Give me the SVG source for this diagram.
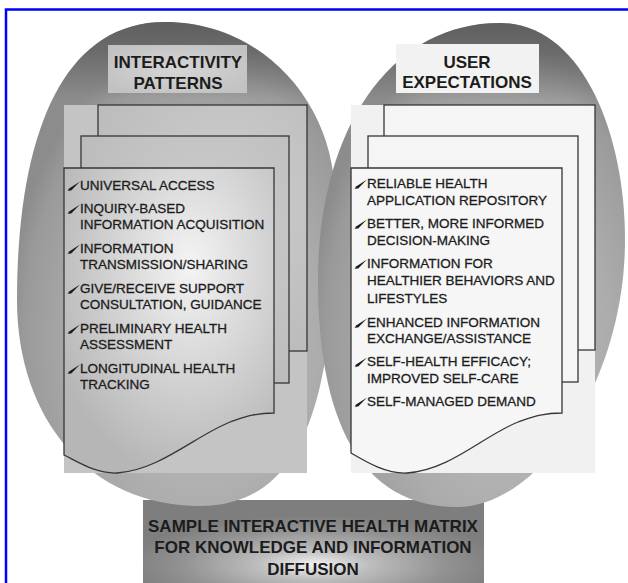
<svg xmlns="http://www.w3.org/2000/svg" xmlns:xlink="http://www.w3.org/1999/xlink" width="628" height="583" viewBox="0 0 628 583">
<style>
  .list { font-family: "Liberation Sans", Arial, sans-serif; font-size: 13.5px; fill: #1c1c1c; stroke: #1c1c1c; stroke-width: 0.3; }
  .head { font-family: "Liberation Sans", Arial, sans-serif; font-size: 17px; font-weight: bold; fill: #1c1c1c; text-anchor: middle; }
  .page { stroke: #363636; stroke-width: 1.3; }
</style>
<defs>
  <radialGradient id="gEgg" cx="0.58" cy="0.66" r="0.62">
    <stop offset="0" stop-color="#c2c2c2"/>
    <stop offset="0.6" stop-color="#acacac"/>
    <stop offset="0.9" stop-color="#9a9a9a"/>
    <stop offset="1" stop-color="#8c8c8c"/>
  </radialGradient>
  <linearGradient id="gCap" x1="0" y1="0" x2="0" y2="1">
    <stop offset="0" stop-color="#505050" stop-opacity="0.75"/>
    <stop offset="0.06" stop-color="#505050" stop-opacity="0.55"/>
    <stop offset="0.16" stop-color="#505050" stop-opacity="0"/>
  </linearGradient>
  <radialGradient id="gFrontL" cx="0.6" cy="0.32" r="0.7">
    <stop offset="0" stop-color="#f4f4f4"/>
    <stop offset="0.45" stop-color="#d8d8d8"/>
    <stop offset="1" stop-color="#b6b6b6"/>
  </radialGradient>
  <radialGradient id="gPageL" cx="0.6" cy="0.4" r="0.7">
    <stop offset="0" stop-color="#cecece"/>
    <stop offset="1" stop-color="#bcbcbc"/>
  </radialGradient>
  <radialGradient id="gTitleL" cx="0.5" cy="0.5" r="0.6">
    <stop offset="0" stop-color="#d6d6d6"/>
    <stop offset="1" stop-color="#c2c2c2"/>
  </radialGradient>
  <radialGradient id="gBox" cx="0.5" cy="0.72" r="0.55">
    <stop offset="0" stop-color="#f2f2f2"/>
    <stop offset="0.3" stop-color="#bdbdbd"/>
    <stop offset="0.7" stop-color="#929292"/>
    <stop offset="1" stop-color="#7e7e7e"/>
  </radialGradient>
  <path id="pen" d="M-0.5,0.8 L1.5,-1.8 L12,-8.5 L3.2,0.6 Z" fill="#1c1c1c" stroke="none"/>
  <path id="eggL" d="M165,22 C260,22 335,100 335,200 C335,360 320,506 200,506 C90,506 17,420 17,300 C17,140 60,22 165,22 Z"/>
  <path id="eggR" d="M500,23 C580,23 625,130 625,240 C625,380 540,507 457,507 C360,507 318,420 318,280 C318,130 390,23 500,23 Z"/>
</defs>

<rect x="6" y="9.5" width="700" height="700" fill="none" stroke="#0000ff" stroke-width="2.5"/>

<g id="matrix-title">
  <rect x="143" y="500" width="341" height="90" fill="url(#gBox)"/>
  <text class="head" x="313" y="532">SAMPLE INTERACTIVE HEALTH MATRIX</text>
  <text class="head" x="313" y="553">FOR KNOWLEDGE AND INFORMATION</text>
  <text class="head" x="313" y="575">DIFFUSION</text>
</g>

<g id="backgrounds">
  <use xlink:href="#eggL" fill="url(#gEgg)"/>
  <use xlink:href="#eggL" fill="url(#gCap)"/>
  <use xlink:href="#eggR" fill="url(#gEgg)"/>
  <use xlink:href="#eggR" fill="url(#gCap)"/>
</g>

<g id="interactivity-patterns">
  <rect x="108" y="45" width="139" height="48" fill="url(#gTitleL)"/>
  <text class="head" x="178" y="68">INTERACTIVITY</text>
  <text class="head" x="178" y="89">PATTERNS</text>
  <rect x="64" y="105" width="243" height="368" fill="#c4c4c4"/>
  <rect class="page" x="98" y="105" width="209" height="246" fill="url(#gPageL)"/>
  <rect class="page" x="81" y="136" width="208" height="247" fill="url(#gPageL)"/>
  <path class="page" d="M64,168 H274 V413 C255,413 245,417 230,422 C195,436 160,470 117,473 C97,474 80,463 64,455 Z" fill="url(#gFrontL)"/>
  <g class="list">
    <use xlink:href="#pen" x="68" y="190"/><text x="80" y="190">UNIVERSAL ACCESS</text>
    <use xlink:href="#pen" x="68" y="213"/><text x="80" y="213">INQUIRY-BASED</text>
    <text x="80" y="229">INFORMATION ACQUISITION</text>
    <use xlink:href="#pen" x="68" y="253"/><text x="80" y="253">INFORMATION</text>
    <text x="80" y="269">TRANSMISSION/SHARING</text>
    <use xlink:href="#pen" x="68" y="293"/><text x="80" y="293">GIVE/RECEIVE SUPPORT</text>
    <text x="80" y="309">CONSULTATION, GUIDANCE</text>
    <use xlink:href="#pen" x="68" y="333"/><text x="80" y="333">PRELIMINARY HEALTH</text>
    <text x="80" y="349">ASSESSMENT</text>
    <use xlink:href="#pen" x="68" y="373"/><text x="80" y="373">LONGITUDINAL HEALTH</text>
    <text x="80" y="389">TRACKING</text>
  </g>
</g>

<g id="user-expectations">
  <rect x="396" y="44" width="143" height="49" fill="#f2f2f2"/>
  <text class="head" x="467" y="68">USER</text>
  <text class="head" x="467" y="88">EXPECTATIONS</text>
  <rect x="351" y="105" width="244" height="368" fill="#f1f1f1"/>
  <rect class="page" x="384" y="105" width="211" height="245" fill="#f5f5f5"/>
  <rect class="page" x="368" y="136" width="210" height="246" fill="#f5f5f5"/>
  <path class="page" d="M351,168 H562 V413 C543,413 533,417 518,422 C483,436 450,470 407,473 C387,474 368,463 351,453 Z" fill="#f6f6f6"/>
  <g class="list">
    <use xlink:href="#pen" x="355" y="188"/><text x="367" y="188">RELIABLE HEALTH</text>
    <text x="367" y="205">APPLICATION REPOSITORY</text>
    <use xlink:href="#pen" x="355" y="228"/><text x="367" y="228">BETTER, MORE INFORMED</text>
    <text x="367" y="245">DECISION-MAKING</text>
    <use xlink:href="#pen" x="355" y="268"/><text x="367" y="268">INFORMATION FOR</text>
    <text x="367" y="285">HEALTHIER BEHAVIORS AND</text>
    <text x="367" y="303">LIFESTYLES</text>
    <use xlink:href="#pen" x="355" y="327"/><text x="367" y="327">ENHANCED INFORMATION</text>
    <text x="367" y="343">EXCHANGE/ASSISTANCE</text>
    <use xlink:href="#pen" x="355" y="366"/><text x="367" y="366">SELF-HEALTH EFFICACY;</text>
    <text x="367" y="383">IMPROVED SELF-CARE</text>
    <use xlink:href="#pen" x="355" y="406"/><text x="367" y="406">SELF-MANAGED DEMAND</text>
  </g>
</g>

<g id="connectors"></g>
</svg>
